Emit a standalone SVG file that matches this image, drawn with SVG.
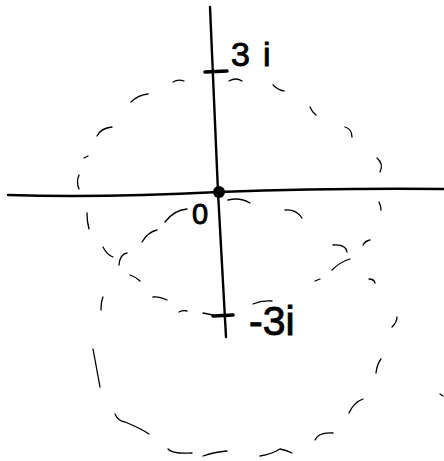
<svg xmlns="http://www.w3.org/2000/svg" width="444" height="461" viewBox="0 0 444 461">
<style>
.ax{fill:none;stroke:#000;stroke-width:2.4;stroke-linecap:round}
.tk{fill:none;stroke:#000;stroke-width:3.5;stroke-linecap:round}
.d{fill:none;stroke:#000;stroke-width:1.3;stroke-linecap:round}
.lb{font-family:"Liberation Sans",Arial,sans-serif;fill:#000;stroke:#000;stroke-width:0.9}
</style>
<rect width="444" height="461" fill="#fff"/>
<g id="axes">
<path class="ax" d="M8,195 Q100,198 219,192 Q330,188 444,189"/>
<path class="ax" d="M210,7 Q214,100 218,192 Q222,270 226,337"/>
<path class="tk" d="M205,72 L227,71"/>
<path class="d" d="M203,313 L213,315"/>
<path class="tk" d="M213,316 L233,315"/>
<circle id="origin" cx="219" cy="192" r="6" fill="#000"/>
</g>
<g id="dashes">
<path class="d" d="M173,82 Q178,79 184,81"/>
<path class="d" d="M229,81 Q236,77 242,81"/>
<path class="d" d="M273,85 Q278,90 284,91"/>
<path class="d" d="M310,107 Q312,112 316,115"/>
<path class="d" d="M345,127 Q352,129 352,137"/>
<path class="d" d="M377,158 Q384,164 380,172"/>
<path class="d" d="M379,202 Q381,206 381,210"/>
<path class="d" d="M131,102 Q138,95 148,94"/>
<path class="d" d="M97,136 Q101,128 112,127"/>
<path class="d" d="M84,158 L88,156"/>
<path class="d" d="M79,175 Q76,182 79,189"/>
<path class="d" d="M87,213 Q87,222 89,229"/>
<path class="d" d="M103,247 Q107,255 113,257"/>
<path class="d" d="M119,265 Q120,254 127,253"/>
<path class="d" d="M142,242 Q148,232 157,230"/>
<path class="d" d="M165,222 Q174,210 187,209"/>
<path class="d" d="M130,275 Q136,277 140,281"/>
<path class="d" d="M101,310 Q101,302 103,297"/>
<path class="d" d="M153,297 Q158,296 167,300"/>
<path class="d" d="M179,312 Q183,310 187,311"/>
<path class="d" d="M228,200 Q240,197 250,203"/>
<path class="d" d="M285,210 Q296,209 302,218"/>
<path class="d" d="M333,245 Q346,244 347,252"/>
<path class="d" d="M363,245 Q365,241 370,240"/>
<path class="d" d="M332,270 Q340,262 350,259"/>
<path class="d" d="M315,281 L320,279"/>
<path class="d" d="M369,279 Q374,279 375,283"/>
<path class="d" d="M392,327 Q397,322 397,317"/>
<path class="d" d="M253,304 Q262,300 272,301"/>
<path class="d" d="M93,349 L100,387"/>
<path class="d" d="M115,414 Q118,421 125,422 Q140,428 149,434"/>
<path class="d" d="M168,449 Q172,454 192,453"/>
<path class="d" d="M203,456 Q214,452 227,451"/>
<path class="d" d="M376,373 Q377,364 381,359"/>
<path class="d" d="M349,413 Q354,402 363,399"/>
<path class="d" d="M315,440 Q318,432 333,433"/>
<path class="d" d="M260,456 Q272,454 280,449 Q286,450 292,453"/>
<path class="d" d="M440,394 L443,396"/>
</g>
<g id="labels">
<text class="lb" x="231" y="66" font-size="34" letter-spacing="13">3i</text>
<text class="lb" x="192" y="224" font-size="29">0</text>
<text class="lb" x="249" y="335" font-size="41">-3i</text>
</g>
</svg>
